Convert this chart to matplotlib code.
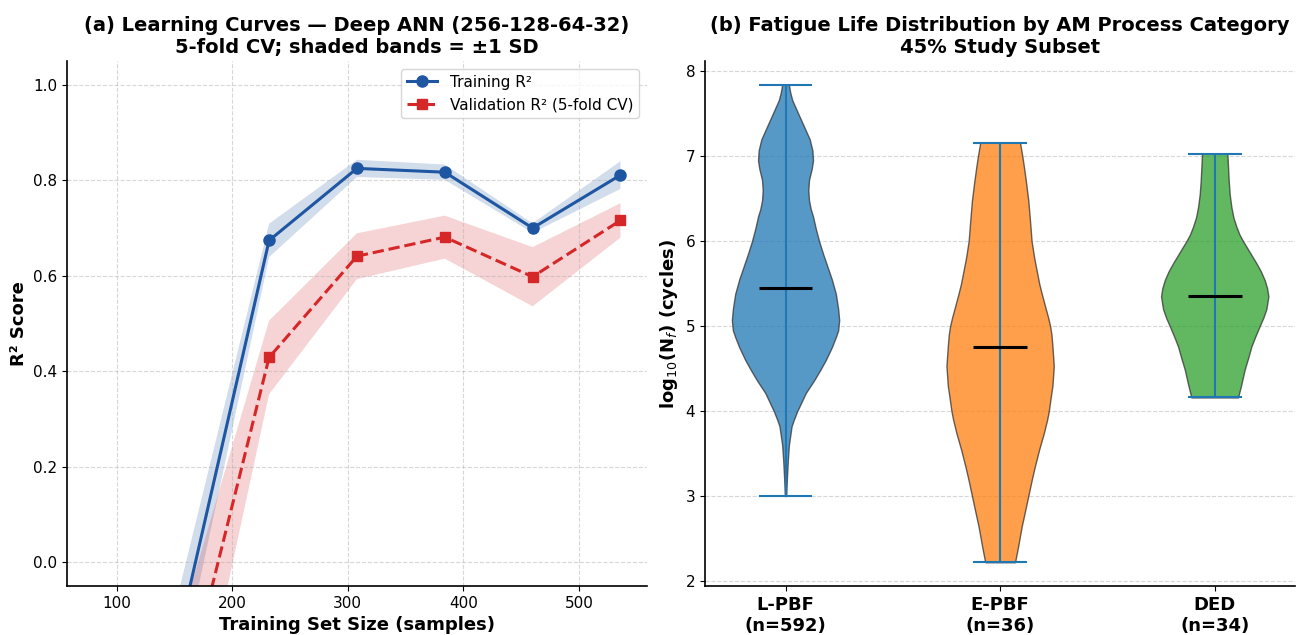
import numpy as np
import matplotlib
matplotlib.use('Agg')
import matplotlib.pyplot as plt

# (a) learning curve values
train_sizes = [80, 156, 232, 308, 384, 460, 536]
train_mean = [-1.00, -0.13, 0.674, 0.825, 0.817, 0.700, 0.811]
train_sd = [0.20, 0.09, 0.035, 0.018, 0.016, 0.010, 0.029]
val_mean = [-1.20, -0.31, 0.429, 0.641, 0.681, 0.598, 0.716]
val_sd = [0.25, 0.19, 0.077, 0.048, 0.045, 0.062, 0.036]

# (b) violin profiles: log10(Nf) levels and relative half-widths
categories = ['L-PBF\n(n=592)', 'E-PBF\n(n=36)', 'DED\n(n=34)']
lpbf_y = [3.00, 3.20, 3.43, 3.60, 3.82, 3.90, 4.00, 4.10, 4.21, 4.36, 4.48, 4.60,
          4.75, 4.87, 4.95, 5.07, 5.20, 5.38, 5.55, 5.70, 5.85, 6.00, 6.15, 6.29,
          6.38, 6.48, 6.60, 6.72, 6.85, 6.95, 7.07, 7.20, 7.35, 7.50, 7.66, 7.75, 7.84]
lpbf_w = [2, 4, 7, 10, 18, 25, 35, 47, 60, 85, 103, 120,
          138, 150, 157, 160, 157, 150, 138, 125, 112, 100, 90, 82,
          75, 70, 68, 70, 78, 82, 80, 72, 55, 38, 20, 14, 10]
epbf_y = [2.22, 2.40, 2.64, 2.80, 3.00, 3.20, 3.35, 3.55, 3.74, 3.90, 4.00, 4.14,
          4.30, 4.53, 4.76, 4.90, 5.00, 5.10, 5.20, 5.39, 5.50, 5.66, 5.80, 6.00,
          6.25, 6.48, 6.70, 6.87, 7.00, 7.16]
epbf_w = [45, 54, 65, 74, 85, 96, 105, 118, 132, 142, 147, 152,
          158, 162, 158, 155, 151, 145, 138, 125, 118, 110, 103, 95,
          90, 85, 78, 72, 67, 60]
ded_y = [4.16, 4.30, 4.49, 4.62, 4.76, 4.88, 5.00, 5.10, 5.20, 5.35, 5.45, 5.54,
         5.64, 5.74, 5.87, 6.00, 6.08, 6.17, 6.28, 6.40, 6.55, 6.71, 6.87, 7.03]
ded_w = [70, 79, 90, 100, 110, 122, 135, 146, 155, 161, 157, 150,
         139, 125, 105, 85, 74, 65, 56, 50, 45, 42, 40, 38]
medians = [5.45, 4.75, 5.35]
means = [5.6, 4.8, 5.5]
violin_colors = ['#1f77b4', '#ff7f0e', '#2ca02c']

fig = plt.figure(figsize=(12.97, 6.35), dpi=100)
ax1 = fig.add_axes([0.0517, 0.077, 0.447, 0.827])
ax2 = fig.add_axes([0.5436, 0.077, 0.455, 0.827])

# ---- (a) learning curves
tr_m, tr_s = np.array(train_mean), np.array(train_sd)
va_m, va_s = np.array(val_mean), np.array(val_sd)
blue, red = '#1f56a2', '#d62728'
ax1.fill_between(train_sizes, tr_m - tr_s, tr_m + tr_s, color=blue, alpha=0.2, lw=0)
ax1.fill_between(train_sizes, va_m - va_s, va_m + va_s, color=red, alpha=0.2, lw=0)
ax1.plot(train_sizes, train_mean, '-o', color=blue, lw=2.2, ms=8, label='Training R²')
ax1.plot(train_sizes, val_mean, '--s', color=red, lw=2.2, ms=7.5, label='Validation R² (5-fold CV)')
ax1.set_ylim(-0.05, 1.05)
ax1.set_xlabel('Training Set Size (samples)', fontsize=13, fontweight='bold')
ax1.set_ylabel('R² Score', fontsize=13, fontweight='bold')
ax1.set_title('(a) Learning Curves — Deep ANN (256-128-64-32)\n5-fold CV; shaded bands = ±1 SD',
              fontsize=14, fontweight='bold')
ax1.grid(True, ls='--', alpha=0.5, color='#b0b0b0')
ax1.legend(loc='upper right', fontsize=11)
ax1.tick_params(labelsize=11)

# ---- (b) violins
profiles = [(lpbf_y, lpbf_w), (epbf_y, epbf_w), (ded_y, ded_w)]
vpstats = []
for (yy, ww), med, mn in zip(profiles, medians, means):
    vpstats.append({'coords': np.array(yy), 'vals': np.array(ww, dtype=float),
                    'mean': mn, 'median': med, 'min': yy[0], 'max': yy[-1]})
parts = ax2.violin(vpstats, positions=[1, 2, 3], widths=0.5,
                   showmedians=True, showextrema=True)
for body, c in zip(parts['bodies'], violin_colors):
    body.set_facecolor(c)
    body.set_edgecolor('#333333')
    body.set_linewidth(1)
    body.set_alpha(0.75)
for key in ['cbars', 'cmins', 'cmaxes']:
    parts[key].set_color('#1f77b4')
    parts[key].set_linewidth(1.5)
parts['cmedians'].set_color('black')
parts['cmedians'].set_linewidth(2.2)
ax2.set_xticks([1, 2, 3])
ax2.set_xticklabels(categories, fontsize=13, fontweight='bold')
ax2.set_ylabel('log$_{10}$(N$_f$) (cycles)', fontsize=13, fontweight='bold')
ax2.set_title('(b) Fatigue Life Distribution by AM Process Category\n45% Study Subset',
              fontsize=14, fontweight='bold')
ax2.yaxis.grid(True, ls='--', alpha=0.5, color='#b0b0b0')
ax2.set_axisbelow(True)
ax2.tick_params(axis='y', labelsize=11)

for ax in (ax1, ax2):
    ax.spines['top'].set_visible(False)
    ax.spines['right'].set_visible(False)
    ax.spines['left'].set_linewidth(1.2)
    ax.spines['bottom'].set_linewidth(1.2)

fig.savefig('out.png', dpi=100)
